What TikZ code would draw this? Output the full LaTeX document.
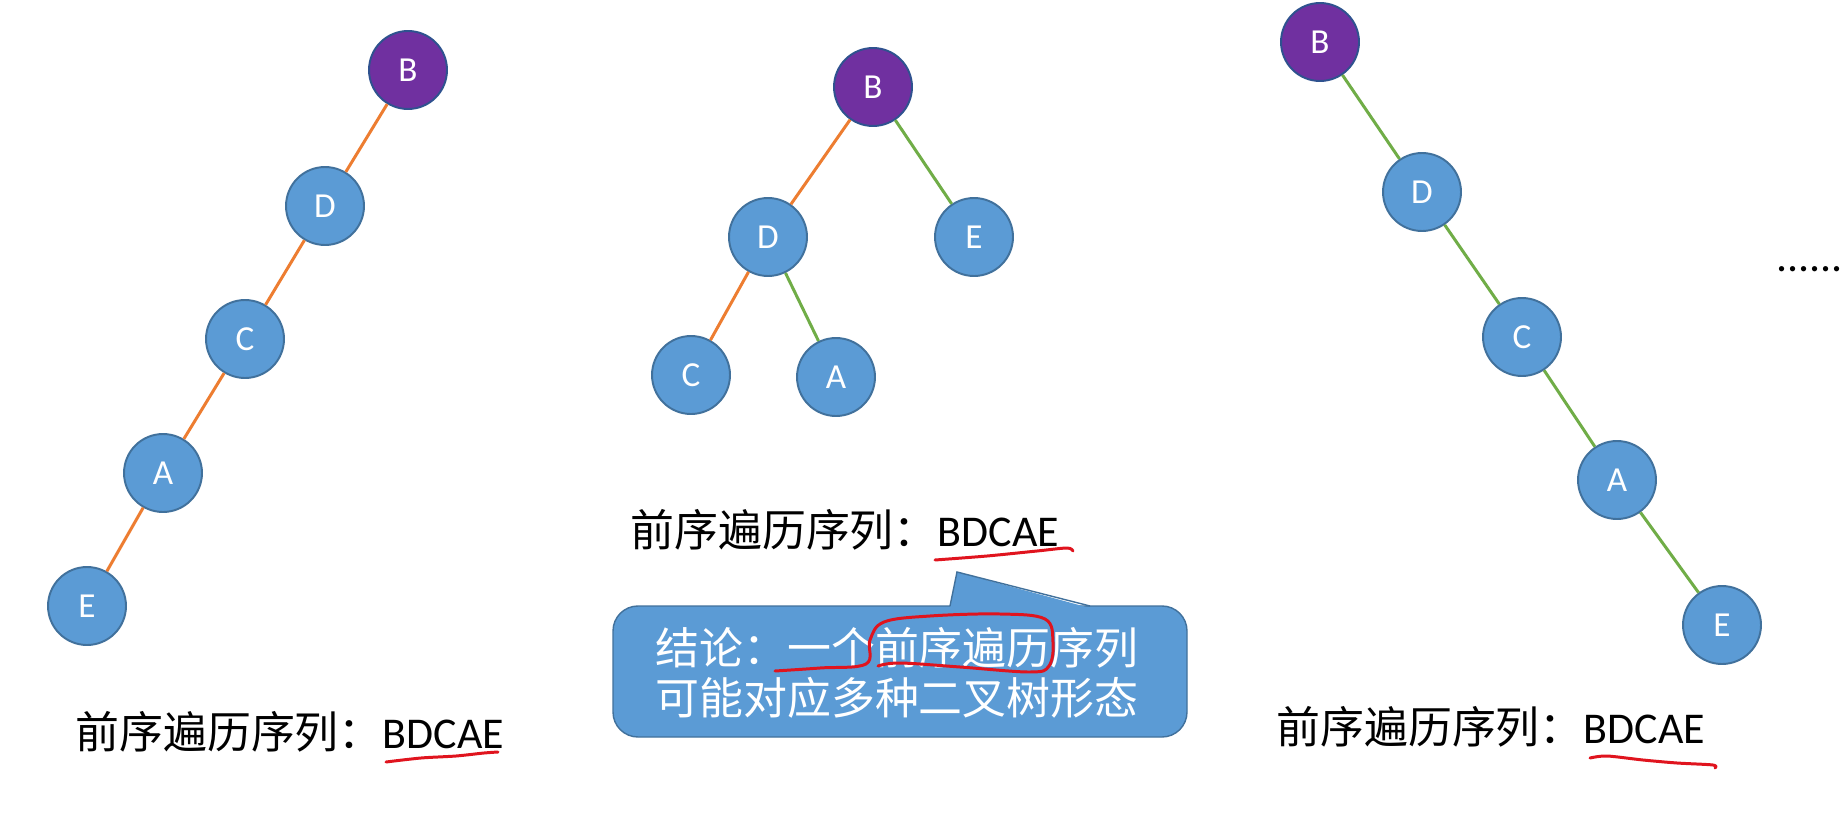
\documentclass[tikz,border=0pt]{standalone}
\usepackage{fontspec}
\setmainfont{Carlito}
\newfontfamily\cjk{Noto Sans CJK SC}
\definecolor{nodeblue}{HTML}{5B9BD5}
\definecolor{nodeline}{HTML}{41719C}
\definecolor{rootpurple}{HTML}{7030A0}
\definecolor{rootline}{HTML}{2F528F}
\definecolor{leftedge}{HTML}{ED7D31}
\definecolor{rightedge}{HTML}{70AD47}
\definecolor{penred}{HTML}{E0141E}

\begin{document}
\begin{tikzpicture}[x=0.02cm,y=-0.02cm,
  tnode/.style={shape=circle,draw=nodeline,fill=nodeblue,line width=1.1pt,minimum size=1.56cm,inner sep=0pt,text=white,font=\fontsize{20}{24}\selectfont},
  root/.style={tnode,fill=rootpurple,draw=rootline},
  lft/.style={draw=leftedge,line width=1.7pt},
  rgt/.style={draw=rightedge,line width=1.7pt},
  seq/.style={anchor=west,inner sep=0pt,font=\fontsize{25}{30}\selectfont},
  pen/.style={draw=penred,line width=1.7pt,line cap=round,line join=round}]
\useasboundingbox[fill=white] (0,0) rectangle (1840,821);

% left tree: only left children
\node[root]  (lb) at (408,70)  {B};
\node[tnode] (ld) at (325,206) {D};
\node[tnode] (lc) at (245,339) {C};
\node[tnode] (la) at (163,473) {A};
\node[tnode] (le) at (87,606)  {E};
\draw[lft] (lb) -- (ld);
\draw[lft] (ld) -- (lc);
\draw[lft] (lc) -- (la);
\draw[lft] (la) -- (le);

% middle tree
\node[root]  (mb) at (873,87)  {B};
\node[tnode] (md) at (768,237) {D};
\node[tnode] (me) at (974,237) {E};
\node[tnode] (mc) at (691,375) {C};
\node[tnode] (ma) at (836,377) {A};
\draw[lft] (mb) -- (md);
\draw[rgt] (mb) -- (me);
\draw[lft] (md) -- (mc);
\draw[rgt] (md) -- (ma);

% right tree: only right children
\node[root]  (rb) at (1320,42)  {B};
\node[tnode] (rd) at (1422,192) {D};
\node[tnode] (rc) at (1522,337) {C};
\node[tnode] (ra) at (1617,480) {A};
\node[tnode] (re) at (1722,625) {E};
\draw[rgt] (rb) -- (rd);
\draw[rgt] (rd) -- (rc);
\draw[rgt] (rc) -- (ra);
\draw[rgt] (ra) -- (re);

\node[anchor=base west,inner sep=0pt,font=\fontsize{25}{30}\selectfont] (more) at (1776,271) {......};

% sequences
\node[seq] (lseq) at (75,732)   {{\cjk 前序遍历序列：}BDCAE};
\node[seq] (mseq) at (630,530)  {{\cjk 前序遍历序列：}BDCAE};
\node[seq] (rseq) at (1276,727) {{\cjk 前序遍历序列：}BDCAE};

% callout
\fill[nodeblue,rounded corners=0.5cm] (613,606) rectangle (1187,737);
\draw[nodeline,line width=0.8pt,rounded corners=0.5cm] (613,606) rectangle (1187,737);
\fill[nodeblue] (950,608) -- (957,572) -- (1090,608) -- cycle;
\draw[nodeline,line width=0.8pt] (950,606) -- (957,572) -- (1090,606);
\node[align=left,text=white,inner sep=0pt,font=\fontsize{25}{28.5}\selectfont\cjk] (concl) at (897,673)
  {结论：一个前序遍历序列\\可能对应多种二叉树形态};

% pen marks
\draw[pen] plot[smooth] coordinates {(386,762) (421,758) (456,756) (484,753) (498,752)};
\draw[pen] plot[smooth] coordinates {(935,560) (987,556) (1037,551) (1067,548) (1073,551)};
\draw[pen] plot[smooth] coordinates {(1590,758) (1607,756) (1643,760) (1677,763) (1713,765) (1715,768)};
\draw[pen] plot[smooth,tension=0.6] coordinates {(775,671) (820,668) (866,664) (870,640) (884,622) (930,616) (1000,614) (1045,619) (1053,642) (1049,666) (1030,672) (960,667) (900,663) (878,666)};
\end{tikzpicture}
\end{document}
